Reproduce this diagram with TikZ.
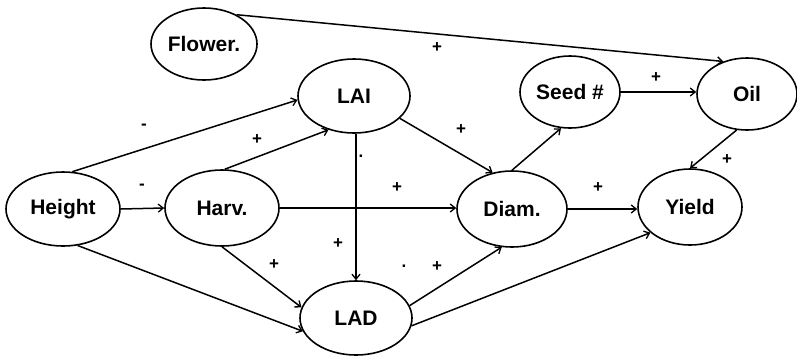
\documentclass[tikz,border=0pt]{standalone}
\usepackage{fontspec}
\setmainfont{Liberation Sans}
\usetikzlibrary{shapes.geometric,arrows.meta}
\begin{document}
\begin{tikzpicture}[x=1pt,y=-1pt,
  var/.style={draw,ellipse,line width=1.6pt,inner sep=0pt,font=\fontsize{21}{23}\selectfont\bfseries},
  edge/.style={line width=1.5pt,-{Straight Barb[length=5pt,width=8pt,line width=1.3pt]}},
  sign/.style={font=\fontsize{17}{17}\selectfont\bfseries,inner sep=0pt}]
\useasboundingbox (0,0) rectangle (797,357);
\node[var,minimum width=106pt,minimum height=72pt] (flower) at (204,44) {Flower.};
\node[var,minimum width=112pt,minimum height=74pt] (lai) at (354,96) {LAI};
\node[var,minimum width=100pt,minimum height=72pt] (seed) at (570,92) {Seed \#};
\node[var,minimum width=100pt,minimum height=72pt] (oil) at (747,94) {Oil};
\node[var,minimum width=114pt,minimum height=74pt] (height) at (63,209) {Height};
\node[var,minimum width=114pt,minimum height=76pt] (harv) at (222,208) {Harv.};
\node[var,minimum width=110pt,minimum height=76pt] (diam) at (512,209) {Diam.};
\node[var,minimum width=104pt,minimum height=76pt] (yield) at (690,207) {Yield};
\node[var,minimum width=112pt,minimum height=74pt] (lad) at (356,318) {LAD};

\draw[edge] (flower.42) -- (oil.126);
\draw[edge] (height.76) -- (lai.184);
\draw[edge] (harv.86) -- (lai.233);
\draw[edge] (lai.south -| lad.north) -- (lad.north);
\draw[edge] (lai.-26) -- (diam.118);
\draw[edge] (diam.90) -- (seed.256);
\draw[edge] (seed.east) -- (seed.east -| oil.west);
\draw[edge] (oil.254) -- (yield.90);
\draw[edge] (height.east) -- (harv.west);
\draw[edge] (harv.east) -- (harv.east -| diam.west);
\draw[edge] (diam.east) -- (diam.east -| yield.west);
\draw[edge] (harv.270) -- (lad.169);
\draw[edge] (height.292) -- (lad.194);
\draw[edge] (lad.13) -- (diam.255);
\draw[edge] (lad.-8) -- (yield.213);

\node[sign] (s1) at (437,48) {+};
\node[sign] (s2) at (144,127) {-};
\node[sign] (s3) at (257,140) {+};
\node[sign] (s4) at (361,156) {.};
\node[sign] (s5) at (461,130) {+};
\node[sign] (s6) at (656,78) {+};
\node[sign] (s7) at (727,160) {+};
\node[sign] (s8) at (142,187) {-};
\node[sign] (s9) at (397,188) {+};
\node[sign] (s10) at (338,244) {+};
\node[sign] (s11) at (274,265) {+};
\node[sign] (s12) at (598,188) {+};
\node[sign] (s13) at (437,267) {+};
\node[sign] (s14) at (404,266) {.};
\end{tikzpicture}
\end{document}
